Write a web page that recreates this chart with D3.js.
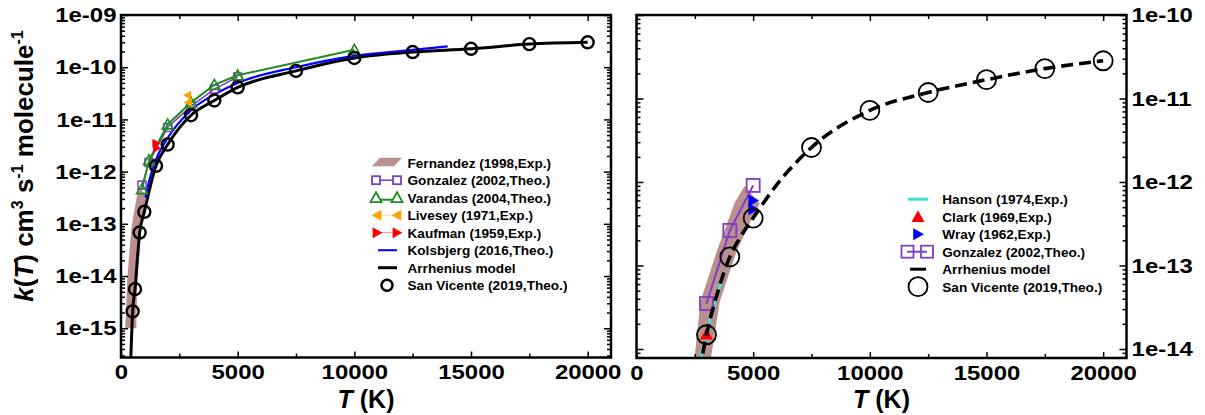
<!DOCTYPE html>
<html><head><meta charset="utf-8">
<script src="https://cdn.jsdelivr.net/npm/d3@7"></script>
<style>
body{margin:0;background:#fff}
text{font-family:"Liberation Sans",Arial,Helvetica,sans-serif;font-weight:bold;fill:#000}
</style>
</head><body>
<svg id="chart" width="1205" height="415"></svg>
<script>
// ---------- tick values ----------
const tMajor = [0, 5000, 10000, 15000, 20000];
const tMinor = [2500, 7500, 12500, 17500];
const yMajorL = [1e-15, 1e-14, 1e-13, 1e-12, 1e-11, 1e-10, 1e-9];
const yMajorR = [1e-14, 1e-13, 1e-12, 1e-11, 1e-10];

// ---------- left panel data ----------
const svT = [500, 600, 800, 1000, 1500, 2000, 3000, 4000, 5000, 7500, 10000, 12500, 15000, 17500, 20000];
const svK = [2.1e-15, 5.6e-15, 6.8e-14, 1.7e-13, 1.29e-12, 3.3e-12, 1.2e-11, 2.3e-11, 4.1e-11, 8.5e-11, 1.5e-10, 1.95e-10, 2.25e-10, 2.77e-10, 3.0e-10];
const arrT = [420, 500, 600, 800, 1000, 1500, 2000, 3000, 4000, 5000, 7500, 10000, 12500, 15000, 17500, 20000];
const arrK = [2.6e-16, 2.1e-15, 5.6e-15, 6.8e-14, 1.7e-13, 1.29e-12, 3.3e-12, 1.2e-11, 2.3e-11, 4.1e-11, 8.5e-11, 1.5e-10, 1.95e-10, 2.25e-10, 2.77e-10, 3.0e-10];
const kolT = [1050, 1200, 1500, 2000, 3000, 4000, 5000, 7500, 10000, 12500, 14000];
const kolK = [3.2e-13, 6.5e-13, 1.7e-12, 4.4e-12, 1.5e-11, 3.0e-11, 5.0e-11, 1.0e-10, 1.65e-10, 2.15e-10, 2.5e-10];
const varT = [900, 1200, 2000, 3000, 4000, 5000, 10000];
const varK = [4.6e-13, 1.65e-12, 8.0e-12, 2.1e-11, 4.6e-11, 7.0e-11, 2.15e-10];
const gonT = [900, 1200, 2000, 3000, 4000, 5000];
const gonK = [5.5e-13, 1.5e-12, 7.0e-12, 1.8e-11, 3.8e-11, 6.5e-11];
const livT = [2850, 2880];
const livK = [2.9e-11, 2.1e-11];
const kauT = [1500, 1530];
const kauK = [3.5e-12, 2.8e-12];
const fernUpperL = [[180, 1.0e-15], [270, 8.9e-15], [440, 7.9e-14], [620, 2.4e-13], [760, 5.1e-13]];
const fernLowerL = [[655, 1.0e-15], [700, 8.9e-15], [870, 7.9e-14], [1005, 2.4e-13], [1085, 3.5e-13]];

// ---------- right panel data ----------
const sv2T = [3000, 4000, 5000, 7500, 10000, 12500, 15000, 17500, 20000];
const sv2K = [1.48e-14, 1.27e-13, 3.7e-13, 2.59e-12, 7.2e-12, 1.18e-11, 1.68e-11, 2.28e-11, 2.83e-11];
const arr2T = [2700, 3000, 3500, 4000, 4500, 5000, 6000, 7500, 10000, 12500, 15000, 17500, 20000];
const arr2K = [5.4e-15, 1.48e-14, 5.0e-14, 1.27e-13, 2.3e-13, 3.7e-13, 9.2e-13, 2.59e-12, 7.2e-12, 1.18e-11, 1.68e-11, 2.28e-11, 2.83e-11];
const hanT = [2650, 3000, 3400, 3800];
const hanK = [6.0e-15, 1.5e-14, 4.0e-14, 8.5e-14];
const gon2T = [3000, 4000, 5000];
const gon2K = [3.5e-14, 2.63e-13, 9.1e-13];
const clarkT = [3000];
const clarkK = [1.5e-14];
const wrayT = [5000, 5000];
const wrayK = [6.0e-13, 4.7e-13];
const fernUpperR = [[2300, 2.6e-15], [2500, 8.5e-15], [2740, 3.7e-14], [3430, 1.45e-13], [4210, 5.7e-13], [4640, 9.0e-13]];
const fernLowerR = [[2920, 2.6e-15], [3210, 8.5e-15], [3570, 3.7e-14], [4280, 1.45e-13], [4930, 3.6e-13], [5280, 5.5e-13]];

// ---------- legends ----------
const legendL = ["Fernandez (1998,Exp.)", "Gonzalez (2002,Theo.)", "Varandas (2004,Theo.)", "Livesey (1971,Exp.)",
  "Kaufman (1959,Exp.)", "Kolsbjerg (2016,Theo.)", "Arrhenius model", "San Vicente (2019,Theo.)"];
const legendR = ["Hanson (1974,Exp.)", "Clark (1969,Exp.)", "Wray (1962,Exp.)", "Gonzalez (2002,Theo.)",
  "Arrhenius model", "San Vicente (2019,Theo.)"];

// ---------- colours ----------
const C = {band: "#bc8f8f", purple: "#7d3fc4", green: "#1e8c1e", orange: "#ffa500", red: "#ff0000",
  blue: "#0000ff", black: "#000", cyan: "#40e0d0"};

const svg = d3.select("#chart");
svg.append("rect").attr("width", 1205).attr("height", 415).attr("fill", "#fff");

const xL = d3.scaleLinear([0, 21000], [121, 611]);
const yL = d3.scaleLog([2.75e-16, 1e-9], [357.5, 15]);
const xR = d3.scaleLinear([0, 21000], [636.5, 1126.5]);
const yR = d3.scaleLog([7.8e-15, 1e-10], [358, 15]);

const STRETCH = "scale(1.14,1)";
const expFmt = d => { const e = Math.round(Math.log10(d)); return "1e-" + String(-e).padStart(2, "0"); };

function minorTicks(y) {
  const out = [];
  const [lo, hi] = y.domain();
  for (let e = Math.floor(Math.log10(lo)); e <= Math.ceil(Math.log10(hi)); e++)
    for (let m = 2; m <= 9; m++) { const v = m * Math.pow(10, e); if (v > lo && v < hi) out.push(v); }
  return out;
}

function frame(x, y, ymaj, labelSide, id) {
  const [x0, x1] = x.range(), [yb, yt] = y.range();
  const g = svg.append("g");
  const clean = s => s.call(a => a.select(".domain").remove()).selectAll("line").attr("stroke-width", 1.5);
  g.append("g").attr("transform", `translate(0,${yb})`)
    .call(d3.axisBottom(x).tickValues(tMajor).tickSize(-6).tickPadding(7).tickFormat(d3.format("d")))
    .call(clean);
  g.append("g").attr("transform", `translate(0,${yb})`)
    .call(d3.axisBottom(x).tickValues(tMinor).tickSize(-4).tickFormat("")).call(clean);
  g.append("g").attr("transform", `translate(0,${yt})`)
    .call(d3.axisTop(x).tickValues(tMajor).tickSize(-6).tickFormat("")).call(clean);
  g.append("g").attr("transform", `translate(0,${yt})`)
    .call(d3.axisTop(x).tickValues(tMinor).tickSize(-4).tickFormat("")).call(clean);
  const mins = minorTicks(y);
  g.append("g").attr("transform", `translate(${x0},0)`)
    .call(d3.axisLeft(y).tickValues(ymaj).tickSize(-7).tickPadding(4).tickFormat(labelSide === "left" ? expFmt : ""))
    .call(clean);
  g.append("g").attr("transform", `translate(${x0},0)`)
    .call(d3.axisLeft(y).tickValues(mins).tickSize(-4).tickFormat("")).call(clean);
  g.append("g").attr("transform", `translate(${x1},0)`)
    .call(d3.axisRight(y).tickValues(ymaj).tickSize(-7).tickPadding(4.5).tickFormat(labelSide === "right" ? expFmt : ""))
    .call(clean);
  g.append("g").attr("transform", `translate(${x1},0)`)
    .call(d3.axisRight(y).tickValues(mins).tickSize(-4).tickFormat("")).call(clean);
  g.selectAll("text").attr("font-size", 21).attr("font-family", '"Liberation Sans",Arial,sans-serif')
    .attr("font-weight", "bold").attr("fill", "#000").attr("transform", STRETCH);
  g.selectAll(".tick line").attr("stroke", "#000");
  g.append("rect").attr("x", x0).attr("y", yt).attr("width", x1 - x0).attr("height", yb - yt)
    .attr("fill", "none").attr("stroke", "#000").attr("stroke-width", 2.5);
  svg.append("clipPath").attr("id", id).append("rect")
    .attr("x", x0).attr("y", yt).attr("width", x1 - x0).attr("height", yb - yt);
  const t = svg.append("text").attr("x", (x0 + x1) / 2).attr("y", 407.5).attr("text-anchor", "middle").attr("font-size", 25);
  t.append("tspan").attr("font-style", "italic").text("T");
  t.append("tspan").text(" (K)");
}

function tri(cx, cy, s, dir) {
  const h = s * 0.5;
  let p;
  if (dir === "up") p = [[cx, cy - h], [cx - h, cy + h * 0.8], [cx + h, cy + h * 0.8]];
  else if (dir === "left") p = [[cx - h, cy], [cx + h * 0.8, cy - h], [cx + h * 0.8, cy + h]];
  else p = [[cx + h, cy], [cx - h * 0.8, cy - h], [cx - h * 0.8, cy + h]];
  return "M" + p.map(q => q.join(",")).join("L") + "Z";
}

function series(T, K) { return T.map((t, i) => [t, K[i]]); }

// ================= LEFT PANEL =================
const pl = svg.append("g").attr("clip-path", "url(#clipL)");
frame(xL, yL, yMajorL, "left", "clipL");
{
  const line = d3.line().x(d => xL(d[0])).y(d => yL(d[1]));
  const cline = d3.line().x(d => xL(d[0])).y(d => yL(d[1])).curve(d3.curveMonotoneX);
  const poly = fernUpperL.concat(fernLowerL.slice().reverse());
  pl.append("path").attr("d", line(poly) + "Z").attr("fill", C.band).attr("stroke", "none");
  pl.append("path").attr("d", cline(series(arrT, arrK))).attr("fill", "none").attr("stroke", C.black).attr("stroke-width", 3);
  pl.append("path").attr("d", cline(series(kolT, kolK))).attr("fill", "none").attr("stroke", C.blue).attr("stroke-width", 2.2);
  const gon = series(gonT, gonK);
  pl.append("path").attr("d", line(gon)).attr("fill", "none").attr("stroke", C.purple).attr("stroke-width", 1.5);
  pl.selectAll(".gsq").data(gon).join("rect").attr("x", d => xL(d[0]) - 4).attr("y", d => yL(d[1]) - 4)
    .attr("width", 8).attr("height", 8).attr("fill", "none").attr("stroke", C.purple).attr("stroke-width", 1.5);
  const vr = series(varT, varK);
  pl.append("path").attr("d", line(vr)).attr("fill", "none").attr("stroke", C.green).attr("stroke-width", 2);
  pl.selectAll(".vtr").data(vr).join("path").attr("d", d => tri(xL(d[0]), yL(d[1]), 11, "up"))
    .attr("fill", "none").attr("stroke", C.green).attr("stroke-width", 1.6);
  pl.selectAll(".liv").data(series(livT, livK)).join("path").attr("d", d => tri(xL(d[0]), yL(d[1]), 9, "left"))
    .attr("fill", C.orange);
  pl.selectAll(".kau").data(series(kauT, kauK)).join("path").attr("d", d => tri(xL(d[0]), yL(d[1]), 9, "right"))
    .attr("fill", C.red);
  pl.selectAll(".sv").data(series(svT, svK)).join("circle").attr("cx", d => xL(d[0])).attr("cy", d => yL(d[1]))
    .attr("r", 6).attr("fill", "none").attr("stroke", C.black).attr("stroke-width", 2.4);
}

// left legend
{
  const g = svg.append("g");
  const cx = 387, tx = 407.5, y0 = 162.7, dy = 17.5;
  legendL.forEach((name, i) => {
    const y = y0 + i * dy;
    g.append("text").attr("x", tx).attr("y", y + 5).attr("font-size", 13.6).text(name);
    if (i === 0) g.append("path").attr("d", `M372,${y + 3.5}L380,${y - 5}L402,${y - 5}L394,${y + 3.5}Z`).attr("fill", C.band);
    if (i === 1) {
      g.append("line").attr("x1", 376).attr("x2", 397).attr("y1", y).attr("y2", y).attr("stroke", C.purple).attr("stroke-width", 1.5);
      [376, 397].forEach(x => g.append("rect").attr("x", x - 4).attr("y", y - 4).attr("width", 8).attr("height", 8)
        .attr("fill", "#fff").attr("stroke", C.purple).attr("stroke-width", 1.8));
    }
    if (i === 2) {
      g.append("line").attr("x1", 376).attr("x2", 397).attr("y1", y + 2).attr("y2", y + 2).attr("stroke", C.green).attr("stroke-width", 2);
      [376, 397].forEach(x => g.append("path").attr("d", tri(x, y, 11, "up")).attr("fill", "#fff").attr("stroke", C.green).attr("stroke-width", 1.8));
    }
    if (i === 3) {
      g.append("line").attr("x1", 378).attr("x2", 396).attr("y1", y).attr("y2", y).attr("stroke", "#ffd9a0").attr("stroke-width", 1);
      [377, 397].forEach(x => g.append("path").attr("d", tri(x, y, 11, "left")).attr("fill", C.orange));
    }
    if (i === 4) {
      g.append("line").attr("x1", 378).attr("x2", 396).attr("y1", y).attr("y2", y).attr("stroke", "#ff9090").attr("stroke-width", 1);
      [377, 397].forEach(x => g.append("path").attr("d", tri(x, y, 11, "right")).attr("fill", C.red));
    }
    if (i === 5) g.append("line").attr("x1", 378).attr("x2", 397).attr("y1", y).attr("y2", y).attr("stroke", C.blue).attr("stroke-width", 2);
    if (i === 6) g.append("line").attr("x1", 378).attr("x2", 397).attr("y1", y).attr("y2", y).attr("stroke", C.black).attr("stroke-width", 3);
    if (i === 7) g.append("circle").attr("cx", cx).attr("cy", y).attr("r", 5.5).attr("fill", "none").attr("stroke", "#000").attr("stroke-width", 2.5);
  });
}

// y title
{
  const t = svg.append("text").attr("transform", "translate(33,166) rotate(-90)").attr("text-anchor", "middle").attr("font-size", 26);
  t.append("tspan").attr("font-style", "italic").text("k");
  t.append("tspan").text("(");
  t.append("tspan").attr("font-style", "italic").text("T");
  t.append("tspan").text(") cm");
  t.append("tspan").attr("font-size", 16).attr("dy", -10).text("3");
  t.append("tspan").attr("dy", 10).text(" s");
  t.append("tspan").attr("font-size", 16).attr("dy", -10).text("-1");
  t.append("tspan").attr("dy", 10).text(" molecule");
  t.append("tspan").attr("font-size", 16).attr("dy", -10).text("-1");
}

// ================= RIGHT PANEL =================
const pr = svg.append("g").attr("clip-path", "url(#clipR)");
frame(xR, yR, yMajorR, "right", "clipR");
{
  const line = d3.line().x(d => xR(d[0])).y(d => yR(d[1]));
  const cline = d3.line().x(d => xR(d[0])).y(d => yR(d[1])).curve(d3.curveMonotoneX);
  const poly = fernUpperR.concat(fernLowerR.slice().reverse());
  pr.append("path").attr("d", line(poly) + "Z").attr("fill", C.band);
  pr.append("path").attr("d", cline(series(hanT, hanK))).attr("fill", "none").attr("stroke", C.cyan).attr("stroke-width", 3);
  const gon = series(gon2T, gon2K);
  pr.append("path").attr("d", line(gon)).attr("fill", "none").attr("stroke", C.purple).attr("stroke-width", 2);
  pr.selectAll(".gsq").data(gon).join("rect").attr("x", d => xR(d[0]) - 6.5).attr("y", d => yR(d[1]) - 6.5)
    .attr("width", 13).attr("height", 13).attr("fill", "none").attr("stroke", C.purple).attr("stroke-width", 1.8);
  pr.selectAll(".cl").data(series(clarkT, clarkK)).join("path").attr("d", d => tri(xR(d[0]), yR(d[1]), 13, "up")).attr("fill", C.red);
  pr.selectAll(".wr").data(series(wrayT, wrayK)).join("path").attr("d", d => tri(xR(d[0]), yR(d[1]), 12, "right")).attr("fill", C.blue);
  pr.append("path").attr("d", cline(series(arr2T, arr2K))).attr("fill", "none").attr("stroke", C.black)
    .attr("stroke-width", 3.6).attr("stroke-dasharray", "12,6");
  pr.selectAll(".sv").data(series(sv2T, sv2K)).join("circle").attr("cx", d => xR(d[0])).attr("cy", d => yR(d[1]))
    .attr("r", 9.5).attr("fill", "none").attr("stroke", C.black).attr("stroke-width", 1.8);
}

// right legend
{
  const g = svg.append("g");
  const cx = 918, tx = 942.3, y0 = 199.2, dy = 17.5;
  legendR.forEach((name, i) => {
    const y = y0 + i * dy;
    g.append("text").attr("x", tx).attr("y", y + 5).attr("font-size", 13.6).text(name);
    if (i === 0) g.append("line").attr("x1", 908).attr("x2", 928).attr("y1", y).attr("y2", y).attr("stroke", C.cyan).attr("stroke-width", 3);
    if (i === 1) g.append("path").attr("d", tri(cx, y, 13, "up")).attr("fill", C.red);
    if (i === 2) g.append("path").attr("d", tri(cx, y, 12, "right")).attr("fill", C.blue);
    if (i === 3) {
      g.append("line").attr("x1", 907).attr("x2", 927).attr("y1", y).attr("y2", y).attr("stroke", C.purple).attr("stroke-width", 2);
      [907.5, 927].forEach(x => g.append("rect").attr("x", x - 6).attr("y", y - 6).attr("width", 12).attr("height", 12)
        .attr("fill", "none").attr("stroke", C.purple).attr("stroke-width", 1.8));
    }
    if (i === 4) g.append("line").attr("x1", 910).attr("x2", 926).attr("y1", y).attr("y2", y).attr("stroke", C.black).attr("stroke-width", 3);
    if (i === 5) g.append("circle").attr("cx", cx).attr("cy", y).attr("r", 9.5).attr("fill", "none").attr("stroke", "#000").attr("stroke-width", 1.8);
  });
}
</script>
</body></html>
